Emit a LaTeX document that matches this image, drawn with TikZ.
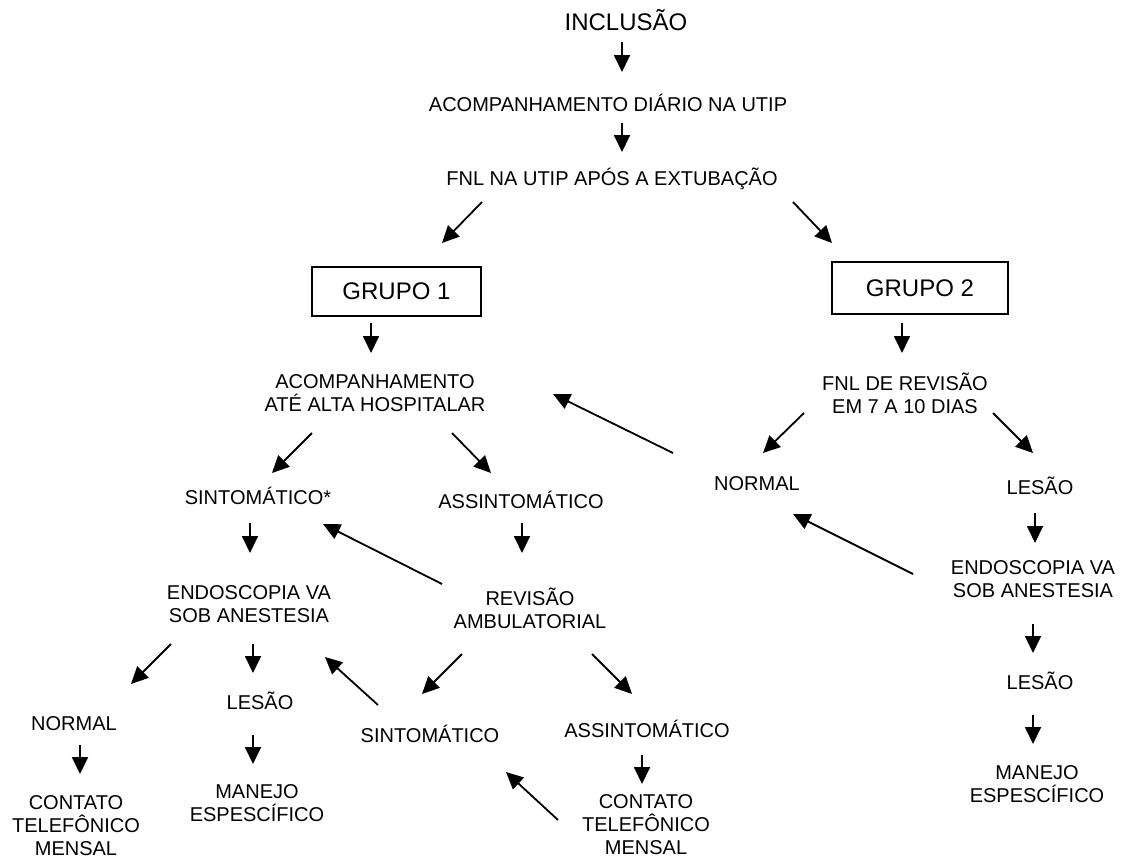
\documentclass[tikz,border=0pt]{standalone}
\usepackage{fontspec}
\setmainfont{Liberation Sans}
\usepackage{tikz}
\usetikzlibrary{arrows.meta}
\tikzstyle{txt} = [align=center, inner sep=0pt, font=\fontsize{10}{11.5}\selectfont]
\tikzstyle{txtone} = [txt, text height=7.2pt, text depth=0pt]
\tikzstyle{grupo} = [rectangle, draw, line width=0.8pt, inner sep=0pt,
    font=\fontsize{12}{14}\selectfont]
\tikzstyle{seta} = [draw, line width=0.9pt, -{Triangle[length=8.5pt,width=8pt]}]

\begin{document}
\begin{tikzpicture}[x=0.5pt, y=-0.5pt]
  \useasboundingbox (0,0) rectangle (1125,857);
  % Place nodes
  \node [txtone, font=\fontsize{12}{14}\selectfont, text height=8.6pt] (incl) at (626,22) {INCLUSÃO};
  \node [txtone] (acomp1) at (608,104) {ACOMPANHAMENTO DIÁRIO NA UTIP};
  \node [txtone] (fnl1) at (612,178) {FNL NA UTIP APÓS A EXTUBAÇÃO};
  \node [grupo, minimum width=84.5pt, minimum height=24.5pt] (grupo1) at (396.5,291.5) {GRUPO 1};
  \node [grupo, minimum width=88pt, minimum height=26pt] (grupo2) at (920,288) {GRUPO 2};
  \node [txt] (acomp2) at (375,393.5) {ACOMPANHAMENTO\\ATÉ ALTA HOSPITALAR};
  \node [txt] (fnl2) at (905,393.5) {FNL DE REVISÃO\\EM 7 A 10 DIAS};
  \node [txtone] (sint1) at (258,497) {SINTOMÁTICO*};
  \node [txtone] (assint1) at (521,501) {ASSINTOMÁTICO};
  \node [txtone] (normal2) at (757,483) {NORMAL};
  \node [txtone] (lesao2) at (1040,487) {LESÃO};
  \node [txt] (endo1) at (249,604) {ENDOSCOPIA VA\\SOB ANESTESIA};
  \node [txt] (revis) at (530,608.5) {REVISÃO\\AMBULATORIAL};
  \node [txt] (endo2) at (1033,579) {ENDOSCOPIA VA\\SOB ANESTESIA};
  \node [txtone] (lesao3) at (1040,682) {LESÃO};
  \node [txtone] (normal1) at (74,723) {NORMAL};
  \node [txtone] (lesao1) at (260,702) {LESÃO};
  \node [txtone] (sint2) at (430,735) {SINTOMÁTICO};
  \node [txtone] (assint2) at (647,730) {ASSINTOMÁTICO};
  \node [txt] (manejo1) at (257,803.5) {MANEJO\\ESPESCÍFICO};
  \node [txt] (manejo2) at (1037,784.5) {MANEJO\\ESPESCÍFICO};
  \node [txt] (contato1) at (76,825.5) {CONTATO\\TELEFÔNICO\\MENSAL};
  \node [txt] (contato2) at (646,825) {CONTATO\\TELEFÔNICO\\MENSAL};
  % Draw arrows
  \draw [seta] ([shift={(-4,20)}]incl.center) -- ([shift={(14,-32)}]acomp1.center);
  \draw [seta] ([shift={(14,19)}]acomp1.center) -- ([shift={(10,-26)}]fnl1.center);
  \draw [seta] ([shift={(-130,24)}]fnl1.center) -- ([shift={(45.5,-48.5)}]grupo1.center);
  \draw [seta] ([shift={(181,24)}]fnl1.center) -- ([shift={(-88,-45)}]grupo2.center);
  \draw [seta] ([shift={(-25.5,31.5)}]grupo1.center) -- ([shift={(-4,-40.5)}]acomp2.center);
  \draw [seta] ([shift={(-18,35)}]grupo2.center) -- ([shift={(-3,-40.5)}]fnl2.center);
  \draw [seta] ([shift={(-63,39.5)}]acomp2.center) -- ([shift={(14,-24)}]sint1.center);
  \draw [seta] ([shift={(77,39.5)}]acomp2.center) -- ([shift={(-30,-28)}]assint1.center);
  \draw [seta] ([shift={(-8,26)}]sint1.center) -- ([shift={(1,-51)}]endo1.center);
  \draw [seta] ([shift={(1,22)}]assint1.center) -- ([shift={(-8,-55.5)}]revis.center);
  \draw [seta] ([shift={(-88,-24.5)}]revis.center) -- ([shift={(65,27)}]sint1.center);
  \draw [seta] ([shift={(-101,19.5)}]fnl2.center) -- ([shift={(6,-30)}]normal2.center);
  \draw [seta] ([shift={(88,19.5)}]fnl2.center) -- ([shift={(-7,-34)}]lesao2.center);
  \draw [seta] ([shift={(-84,-30)}]normal2.center) -- ([shift={(178,0.5)}]acomp2.center);
  \draw [seta] ([shift={(-5,26)}]lesao2.center) -- ([shift={(2,-36)}]endo2.center);
  \draw [seta] ([shift={(-120,-5)}]endo2.center) -- ([shift={(36,31)}]normal2.center);
  \draw [seta] ([shift={(0,45)}]endo2.center) -- ([shift={(-7,-29)}]lesao3.center);
  \draw [seta] ([shift={(-7,33)}]lesao3.center) -- ([shift={(-4,-40.5)}]manejo2.center);
  \draw [seta] ([shift={(-78,40)}]endo1.center) -- ([shift={(57,-39)}]normal1.center);
  \draw [seta] ([shift={(4,40)}]endo1.center) -- ([shift={(-7,-29)}]lesao1.center);
  \draw [seta] ([shift={(-52,-30)}]sint2.center) -- ([shift={(76,53)}]endo1.center);
  \draw [seta] ([shift={(-68,45.5)}]revis.center) -- ([shift={(-8,-41)}]sint2.center);
  \draw [seta] ([shift={(62,45.5)}]revis.center) -- ([shift={(-15,-36)}]assint2.center);
  \draw [seta] ([shift={(6,22)}]normal1.center) -- ([shift={(4,-51.5)}]contato1.center);
  \draw [seta] ([shift={(-7,33)}]lesao1.center) -- ([shift={(-4,-39.5)}]manejo1.center);
  \draw [seta] ([shift={(-5,25)}]assint2.center) -- ([shift={(-4,-41)}]contato2.center);
  \draw [seta] ([shift={(-88,-5)}]contato2.center) -- ([shift={(76,37)}]sint2.center);
\end{tikzpicture}
\end{document}
